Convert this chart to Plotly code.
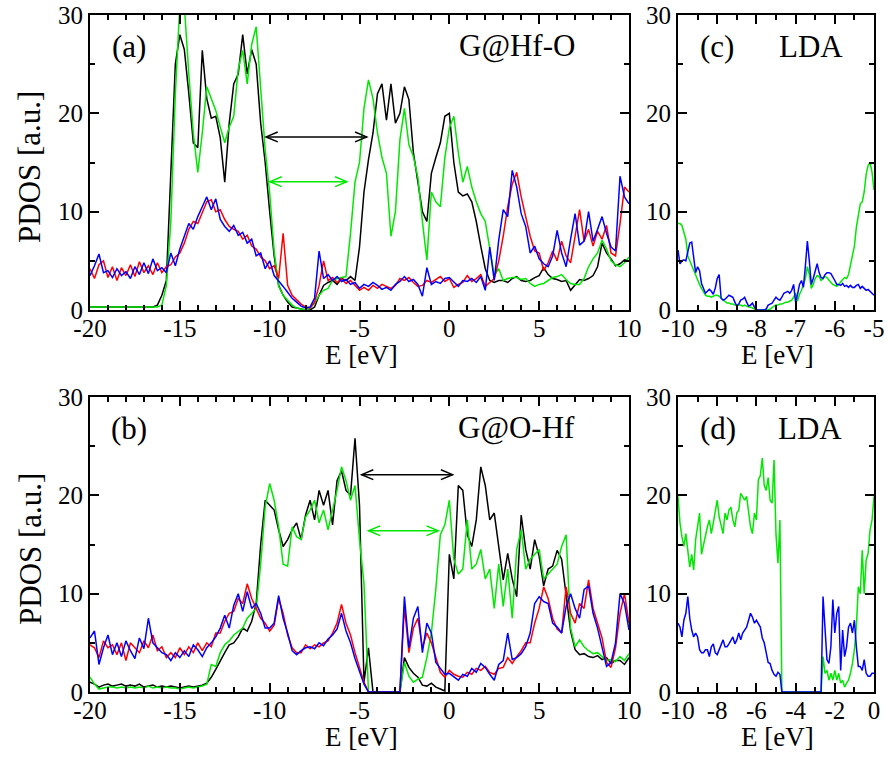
import numpy as np
import plotly.graph_objects as go

# ---------------- data ----------------
# panels (a) and (b): energy grid -20 .. 10 eV, step 0.25 (rows of 2 eV)
E_ab = np.round(np.linspace(-20, 10, 121), 2)

a_black = [
    0.3, 0.3, 0.3, 0.3, 0.3, 0.3, 0.3, 0.3,
    0.3, 0.3, 0.3, 0.3, 0.3, 0.3, 0.3, 0.5,
    1.5, 3.0, 14, 25, 28, 26.5, 22, 17,
    16.5, 26.4, 21.5, 19.5, 19.7, 17.5, 13, 19,
    23, 24, 28, 24, 26.5, 25, 19, 15,
    10, 5.5, 2.5, 1.5, 0.8, 0.3, 0.2, 0.1,
    0, 0, 0.3, 1.5, 2.5, 2.8, 3, 2.6,
    3.2, 3.0, 3.4, 3.0, 6.4, 12, 15.3, 18,
    22, 23, 19.3, 23, 19, 20, 22.7, 21.4,
    16, 13, 10, 9, 13.9, 15.5, 17, 19.7,
    20, 15, 12, 11.6, 11.8, 11, 9, 6.5,
    4.2, 3, 2.8, 3, 3, 2.8, 3.2, 3.4,
    3, 2.9, 3, 3.3, 3.5, 4.3, 3.6, 3.2,
    3.1, 2.9, 3, 2, 2.6, 3.1, 3, 3.2,
    3.5, 4.4, 6.8, 5.8, 5.2, 4.5, 4.7, 5.1,
    5,
]
a_green = [
    0.3, 0.3, 0.3, 0.3, 0.3, 0.3, 0.3, 0.3,
    0.3, 0.3, 0.3, 0.3, 0.3, 0.3, 0.3, 0.3,
    0.5, 2.5, 9, 22, 31, 31, 24, 18,
    14, 18, 22.7, 21.5, 20.3, 18.6, 17, 18.6,
    19.7, 24.5, 26.4, 23, 27, 28.8, 22, 16.3,
    11.9, 6, 2.4, 1.5, 1, 0.5, 0.2, 0.1,
    0, 0.2, 0.7, 1.5, 2, 2.2, 3, 3.2,
    3.3, 3.4, 7.8, 13, 15, 20.5, 23.4, 21.5,
    18, 15.5, 13.9, 7.5, 10, 17.3, 20.5, 16.8,
    15.6, 13.5, 9, 5.1, 12, 11, 10.5, 15.5,
    18.5, 19.7, 16, 13, 14.6, 12.5, 11, 9.8,
    9, 6, 3.5, 4.2, 3, 3.2, 3.3, 3.3,
    3.1, 3.2, 2.7, 2.4, 2.6, 2.7, 3, 3.3,
    3.4, 3.6, 3.1, 2.7, 2.6, 2.6, 3.2, 4.4,
    5.2, 5.8, 7.1, 6.2, 5, 4.6, 4.4, 4.8,
    5.4,
]
a_red = [
    4.2, 3.2, 4.6, 5.0, 3.3, 4.4, 3.0, 4.3,
    3.5, 4.6, 3.4, 4.9, 3.8, 4.5, 3.6, 4.8,
    3.8, 4.4, 4.6, 5.4, 5.8, 6.8, 8.2, 9.0,
    8.8, 10.0, 11.0, 11.2, 10.0, 10.2, 9.2, 8.5,
    8.2, 8.0, 7.2, 7.6, 6.5, 6.2, 5.4, 5.0,
    4.2, 4.5, 3.2, 7.8, 2.5, 1.5, 1.0, 0.6,
    0.3, 0.2, 0.8, 2.5, 5.0, 3.0, 3.3, 2.8,
    3.2, 2.7, 3.0, 2.5, 2.0, 2.3, 2.0, 2.5,
    2.2, 2.6, 2.4, 2.2, 2.5, 3.2, 3.0, 3.3,
    2.8, 2.4, 2.5, 3.0, 2.8, 3.1, 3.4, 2.9,
    3.2, 2.3, 2.6, 2.8, 3.5, 2.9, 3.2, 3.6,
    2.4, 2.8, 3.2, 5.0, 7.5, 10.5, 12.8, 14.0,
    11.5, 9.5, 7.5, 6.0, 5.8, 4.0, 4.8, 6.0,
    5.0, 7.0, 5.5, 4.8, 7.5, 10.2, 7.0, 8.2,
    6.5, 8.0, 7.2, 8.6, 5.8, 5.5, 8.8, 12.5,
    12.0,
]
a_blue = [
    3.5, 4.5, 5.7, 3.8, 4.0, 3.3, 4.2, 3.5,
    3.9, 3.2, 4.4, 3.6, 4.8, 3.7, 5.2, 4.0,
    4.3, 3.8, 5.8, 4.5, 6.2, 7.5, 8.8, 8.2,
    9.5, 10.5, 11.5, 10.2, 11.3, 9.2, 8.5, 8.0,
    8.6, 7.6, 7.9, 6.8, 7.2, 5.5, 5.8, 4.2,
    5.0, 3.5, 3.0, 2.4, 1.8, 1.2, 0.8, 0.4,
    0.2, 0.3, 1.2, 6.0, 3.2, 3.6, 3.0, 3.4,
    2.9, 3.1, 2.6, 2.8, 2.2, 2.6, 2.4, 2.8,
    2.5, 2.1, 2.3, 2.0, 2.6, 2.9, 3.4, 2.9,
    3.1, 2.6, 1.4, 4.3, 2.6, 2.9, 2.7, 3.2,
    3.3, 2.8, 2.4, 3.0, 2.9, 3.2, 2.8, 3.4,
    2.0, 6.4, 3.0, 7.1, 10.2, 9.5, 14.2, 12.5,
    9.8, 8.5, 5.8, 6.5, 5.2, 4.7, 4.4, 5.5,
    8.1, 5.8, 4.4, 7.2, 9.8, 6.6, 7.0, 10.0,
    7.0, 8.2, 9.5, 7.8, 6.4, 6.0, 13.6, 11.5,
    10.8,
]

b_black = [
    1.0, 0.8, 0.5, 0.7, 0.8, 0.6, 0.7, 0.8,
    0.6, 0.7, 0.6, 0.8, 0.5, 0.6, 0.7, 0.5,
    0.6, 0.5, 0.6, 0.5, 0.4, 0.5, 0.6, 0.5,
    0.6, 0.7, 0.9, 1.5, 2.3, 3.2, 4.0, 4.8,
    5.0, 5.6, 6.5, 6.2, 7.2, 9.0, 15, 19.5,
    19, 18.5, 16.5, 14.8, 15.5, 16.5, 17.2, 15.5,
    18, 19.5, 17.5, 20.5, 19, 20.5, 17, 21.5,
    22.5, 20.5, 20, 25.8, 19, 1.0, 4.5, 0,
    0, 0, 0, 0, 0, 0, 3.5, 2.5,
    1.9, 1.5, 0.7, 0.6, 0.9, 0.5, 0.3, 0.1,
    14, 11.5, 21, 20.5, 16, 14.8, 17.5, 22.9,
    21, 17.5, 18.2, 15, 11.4, 14.1, 11.5, 9.7,
    18, 14.5, 12.5, 15.5, 13.8, 10.8, 12.5, 12.8,
    14.4, 13.5, 10, 6.2, 4.3, 3.8, 3.9, 3.6,
    3.5, 3.7, 3.3, 3.5, 2.9, 3.2, 3.2, 2.8,
    3.5,
]
b_green = [
    1.5, 0.8, 0.3, 0.4, 0.5, 0.5, 0.4, 0.5,
    0.4, 0.5, 0.4, 0.5, 0.4, 0.6, 0.4, 0.5,
    0.4, 0.5, 0.4, 0.4, 0.3, 0.4, 0.5, 0.4,
    0.5, 0.6, 0.8, 2.8, 2.6, 4.0, 4.8, 5.2,
    5.8, 6.2, 6.5, 7.5, 8.0, 8.5, 13, 18.8,
    21.2, 19.5, 16.8, 13, 12.8, 16.8, 15.8, 15.5,
    17.8, 18.5, 19.5, 17.2, 18.5, 16.5, 18.5, 20.5,
    22.9, 21.5, 19.5, 21, 15.5, 11.0, 0, 0,
    0, 0, 0, 0, 0, 0, 3.0, 1.6,
    1.0, 1.3, 1.5, 3.5, 6, 10.5, 16, 17,
    19.5, 13.5, 12, 12.5, 17.5, 12.5, 13, 14.5,
    11.5, 12.5, 8.5, 13, 8.7, 12.5, 7.5, 14.5,
    16.5, 12.5, 13.5, 14.0, 14.5, 11.5, 12, 12.5,
    13, 14.8, 16, 6.5, 4.6, 5.3, 4.6, 4.2,
    3.9, 4.0, 3.6, 3.2, 3.3, 3.1, 3.6, 3.2,
    3.9,
]
b_red = [
    4.8, 4.5, 3.5, 5.2, 4.5, 4.8, 3.8, 5.0,
    3.2, 5.0, 4.5, 4.0, 5.2, 4.5, 5.8, 4.2,
    4.6, 3.5, 4.0, 3.5, 4.5, 3.8, 4.6, 4.0,
    5.0, 4.2, 5.0, 4.6, 6.0, 6.0, 7.2, 8.0,
    8.2, 9.5, 9.0, 11.0, 9.5, 8.5, 7.5, 7.0,
    6.2, 6.8, 9.5, 8.0, 5.8, 4.5, 4.0, 4.0,
    4.8, 4.4, 4.8, 4.6, 5.0, 5.2, 6.0, 7.0,
    8.9, 7.0, 5.8, 4.0, 2.6, 1.0, 0, 0,
    0, 0, 0, 0, 0, 0, 8.7, 4.0,
    6.5, 7.5, 4.5, 6.0, 5.0, 3.5, 2.0, 1.5,
    2.2, 1.8, 1.6, 1.5, 2.0, 1.8, 2.4, 2.2,
    2.6, 2.0, 1.8, 2.4, 2.5, 3.5, 2.9, 3.6,
    4.2, 5.0, 5.0, 7.0, 8.5, 10.7, 9.5, 7.5,
    6.4, 6.0, 10.7, 8.0, 7.0, 9.0, 8.5, 11.4,
    8.5, 7.0, 5.5, 3.0, 2.5, 4.5, 8.0, 10.0,
    7.0,
]
b_blue = [
    5.5, 6.2, 2.8, 4.5, 5.8, 3.8, 5.0, 3.6,
    5.2, 4.2, 3.4, 5.5, 4.4, 7.5, 5.0, 4.5,
    4.0, 3.8, 3.2, 4.0, 3.5, 4.2, 3.6, 4.8,
    4.3, 3.6, 4.5, 5.0, 5.6, 6.5, 7.8, 6.5,
    8.8, 10.0, 8.2, 10.2, 8.5, 9.0, 8.0, 6.5,
    6.5, 7.0, 9.8, 7.5, 6.0, 4.2, 3.8, 4.2,
    4.5, 4.6, 4.4, 5.0, 4.7, 5.4, 5.8, 6.4,
    8.0, 6.2, 5.0, 3.4, 2.2, 0.8, 0, 0,
    0, 0, 0, 0, 0, 0, 9.7, 4.5,
    7.5, 8.7, 4.0, 7.0, 6.0, 3.0, 2.4, 1.8,
    1.9, 1.5, 1.2, 1.8, 1.6, 2.4, 2.0, 2.9,
    2.5, 1.8, 1.2, 2.8, 3.2, 6.0, 3.3, 3.5,
    3.9, 4.6, 6.0, 9.0, 9.7, 9.2, 9.0, 7.0,
    6.6, 6.0, 8.7, 10.0, 8.5, 7.5, 10.4, 10.8,
    8.0, 6.5, 4.5, 2.6, 3.0, 5.0, 10.0, 9.0,
    6.3,
]

# panel (c): -10 .. -5 eV, step 0.05 (rows of 0.5 eV)
E_c = np.round(np.linspace(-10, -5, 101), 3)
c_green = [
    8.8, 8.8, 8.6, 8.0, 7.2, 5.5, 5.0, 4.6, 4.0, 3.4,
    3.0, 2.6, 2.2, 1.8, 1.5, 1.4, 1.4, 1.3, 1.4, 1.5,
    1.5, 1.4, 1.2, 1.0, 0.8, 0.7, 0.7, 0.6, 0.6, 0.5,
    0.5, 0.5, 0.5, 0.4, 0.5, 0.4, 0.3, 0.3, 0.2, 0.1,
    0, 0, 0, 0, 0, 0, 0, 0.1, 0.3, 0.4,
    0.5, 0.5, 0.6, 0.6, 0.7, 0.8, 0.8, 0.9, 1.0, 1.3,
    1.7, 0.9, 1.6, 2.0, 2.6, 3.2, 4.4, 3.6, 2.2, 2.6,
    3.2, 3.5, 3.4, 3.0, 3.2, 3.4, 3.3, 3.0, 2.8, 2.6,
    2.5, 2.4, 2.6, 2.9, 3.1, 3.3, 3.2, 3.6, 4.5, 5.3,
    6.5, 8.4, 9.6, 10.8, 11.0, 12.0, 13.8, 14.7, 15.0, 14.0,
    12.2,
]
c_blue = [
    6.1, 4.7, 5.0, 5.1, 5.0, 6.0, 6.8, 6.9, 5.0, 3.8,
    4.4, 4.0, 2.7, 2.2, 1.7, 1.9, 2.1, 1.9, 1.6, 2.2,
    3.2, 3.6, 1.2, 1.0, 1.1, 1.3, 1.5, 1.4, 1.3, 0.8,
    0.4, 0.6, 1.0, 1.1, 1.3, 0.8, 0.4, 0.5, 0.7, 0.3,
    0, 0, 0, 0, 0, 0.1, 0.5, 0.6, 0.7, 1.0,
    1.3, 1.1, 1.0, 1.3, 1.7, 1.8, 1.9, 1.7, 2.0, 2.6,
    0.8, 1.6, 2.6, 3.0, 2.3, 4.5, 7.0, 5.0, 2.6, 3.2,
    4.0, 4.7, 3.8, 3.3, 3.2, 3.6, 3.8, 3.8, 3.7, 3.4,
    3.0, 2.6, 2.6, 2.5, 2.7, 2.4, 2.5, 2.3, 2.5, 2.3,
    2.3, 2.5, 2.6, 2.2, 2.4, 2.2, 2.0, 2.1, 1.9, 1.6,
    1.5,
]

# panel (d): -10 .. 0 eV, step 0.1 (rows of 1 eV)
E_d = np.round(np.linspace(-10, 0, 101), 2)
d_green = [
    19.9, 17.2, 15.8, 14.8, 16.1, 14.1, 12.7, 14.0, 12.4, 15.5,
    16.8, 18.2, 14.0, 15.0, 15.8, 16.8, 17.5, 16.1, 17.2, 18.2,
    19.5, 17.8, 16.8, 16.1, 18.2, 17.5, 18.5, 18.8, 17.5, 16.8,
    18.2, 18.5, 20.2, 19.9, 19.5, 19.9, 18.2, 16.8, 16.1, 18.2,
    17.5, 21.6, 22.0, 23.8, 21.0, 20.5, 21.8, 19.5, 19.2, 23.6,
    16.0, 13.1, 17.5, 0, 0, 0, 0, 0, 0, 0,
    0, 0, 0, 0, 0, 0, 0, 0, 0, 0,
    0, 0, 0, 0, 3.6, 1.9, 2.2, 1.2, 1.9, 1.2,
    2.2, 1.2, 1.9, 0.9, 1.2, 0.5, 0.9, 1.2, 1.9, 2.9,
    4.3, 6.6, 10.7, 10.0, 14.4, 10.0, 13.4, 14.1, 16.5, 17.5,
    19.9,
]
d_blue = [
    7.0, 6.6, 5.6, 7.3, 8.0, 9.7, 7.5, 6.3, 5.6, 6.0,
    5.6, 4.3, 4.0, 4.0, 4.3, 4.3, 3.6, 4.6, 4.9, 4.0,
    3.8, 4.3, 4.6, 5.3, 4.6, 4.6, 4.9, 5.3, 5.6, 4.9,
    5.3, 6.0, 5.3, 6.0, 6.3, 6.6, 7.3, 8.0, 7.6, 7.0,
    7.3, 7.0, 6.6, 5.5, 5.0, 4.0, 3.0, 2.9, 2.2, 1.8,
    1.6, 2.0, 1.8, 0, 0, 0, 0, 0, 0, 0,
    0, 0, 0, 0, 0, 0, 0, 0, 0, 0,
    0, 0, 0, 0, 9.7, 6.0, 3.3, 2.9, 4.6, 9.4,
    6.0, 8.0, 8.7, 2.2, 6.3, 3.6, 4.6, 6.6, 7.0, 6.0,
    7.3, 4.6, 2.6, 2.6, 2.2, 3.3, 1.9, 1.6, 1.6, 1.9,
    1.9,
]

# tick labels
ab_ticks = [-20, -15, -10, -5, 0, 5, 10]
ab_ticklabels = ["-20", "-15", "-10", "-5", "0", "5", "10"]
c_ticks = [-10, -9, -8, -7, -6, -5]
c_ticklabels = ["-10", "-9", "-8", "-7", "-6", "-5"]
d_ticks = [-10, -8, -6, -4, -2, 0]
d_ticklabels = ["-10", "-8", "-6", "-4", "-2", "0"]
y_ticks = [0, 10, 20, 30]
y_ticklabels = ["0", "10", "20", "30"]

# double arrows: (x_start, x_end, y, colour key)
arrows_a = [(-10.2, -4.6, 17.6, "black"), (-9.98, -5.71, 13.05, "green")]
arrows_b = [(-4.88, 0.18, 22.1, "black"), (-4.5, -0.62, 16.4, "green")]

# ---------------- style ----------------
COL = {"black": "#000000", "green": "#00e800", "red": "#ff0000", "blue": "#0000ff"}
FONT = "Liberation Serif"
W, H = 889, 768

def px_x(p):
    return p / W

def px_y(p):
    return 1 - p / H

dom_x_ab = [px_x(90), px_x(629)]
dom_x_cd = [px_x(678), px_x(874)]
dom_y_top = [px_y(310), px_y(15)]
dom_y_bot = [px_y(692), px_y(397)]

fig = go.Figure()

def add(x, y, colour, xa, ya):
    fig.add_trace(go.Scatter(x=x, y=y, mode="lines",
                             line=dict(color=COL[colour], width=1.5),
                             xaxis=xa, yaxis=ya, showlegend=False,
                             hoverinfo="skip"))

for series, col in [(a_black, "black"), (a_green, "green"), (a_red, "red"), (a_blue, "blue")]:
    add(E_ab, series, col, "x", "y")
for series, col in [(b_black, "black"), (b_green, "green"), (b_red, "red"), (b_blue, "blue")]:
    add(E_ab, series, col, "x2", "y2")
for series, col in [(c_green, "green"), (c_blue, "blue")]:
    add(E_c, series, col, "x3", "y3")
for series, col in [(d_green, "green"), (d_blue, "blue")]:
    add(E_d, series, col, "x4", "y4")

tickfont = dict(family=FONT, size=25, color="black")

common = dict(ticks="inside", ticklen=9, tickwidth=1.5, tickcolor="black",
              showline=True, linecolor="black", linewidth=2, mirror="ticks",
              showgrid=False, zeroline=False, automargin=False,
              ticklabeloverflow="allow",
              layer="above traces", tickfont=tickfont)

def xaxis(domain, rng, vals, texts, minor, anchor):
    return dict(domain=domain, range=rng, tickvals=vals, ticktext=texts,
                anchor=anchor, ticklabelstandoff=-5,
                minor=dict(ticks="inside", ticklen=5, dtick=minor,
                           tickwidth=1.5, tickcolor="black", showgrid=False),
                **common)

def yaxis(domain, anchor):
    return dict(domain=domain, range=[0, 30], tickvals=y_ticks, ticktext=y_ticklabels,
                anchor=anchor,
                minor=dict(ticks="inside", ticklen=5, dtick=5, tick0=0,
                           tickwidth=1.5, tickcolor="black", showgrid=False),
                **common)

fig.update_layout(
    width=W, height=H,
    margin=dict(l=0, r=0, t=0, b=0, pad=0, autoexpand=False),
    font=dict(family=FONT, color="black"),
    paper_bgcolor="white", plot_bgcolor="white",
    xaxis=xaxis(dom_x_ab, [-20, 10], ab_ticks, ab_ticklabels, 1, "y"),
    yaxis=yaxis(dom_y_top, "x"),
    xaxis2=xaxis(dom_x_ab, [-20, 10], ab_ticks, ab_ticklabels, 1, "y2"),
    yaxis2=yaxis(dom_y_bot, "x2"),
    xaxis3=xaxis(dom_x_cd, [-10, -5], c_ticks, c_ticklabels, 0.5, "y3"),
    yaxis3=yaxis(dom_y_top, "x3"),
    xaxis4=xaxis(dom_x_cd, [-10, 0], d_ticks, d_ticklabels, 1, "y4"),
    yaxis4=yaxis(dom_y_bot, "x4"),
)

# arrows as line shapes with open chevron heads
def add_arrow(x1, x2, y, colour, xref, yref, dx, dy=0.5):
    c = COL[colour]
    fig.add_shape(type="line", x0=x1, x1=x2, y0=y, y1=y, xref=xref, yref=yref,
                  line=dict(color=c, width=1.5))
    fig.add_shape(type="path", xref=xref, yref=yref,
                  path=f"M {x1 + dx},{y + dy} L {x1},{y} L {x1 + dx},{y - dy}",
                  line=dict(color=c, width=1.5))
    fig.add_shape(type="path", xref=xref, yref=yref,
                  path=f"M {x2 - dx},{y + dy} L {x2},{y} L {x2 - dx},{y - dy}",
                  line=dict(color=c, width=1.5))

for x1, x2, y, c in arrows_a:
    add_arrow(x1, x2, y, c, "x", "y", 0.65)
for x1, x2, y, c in arrows_b:
    add_arrow(x1, x2, y, c, "x2", "y2", 0.65)

labfont = dict(family=FONT, size=31, color="black")
def label(text, x, y, xref, yref):
    fig.add_annotation(text=text, x=x, y=y, xref=xref, yref=yref, showarrow=False,
                       font=labfont, xanchor="center", yanchor="middle")

label("(a)", -17.85, 26.8, "x", "y")
label("G@Hf-O", 3.75, 26.9, "x", "y")
label("(b)", -17.85, 26.8, "x2", "y2")
label("G@O-Hf", 3.75, 26.9, "x2", "y2")
label("(c)", -9.0, 26.8, "x3", "y3")
label("LDA", -6.6, 26.8, "x3", "y3")
label("(d)", -7.98, 26.8, "x4", "y4")
label("LDA", -3.28, 26.8, "x4", "y4")

def title(text, xp, yp, size, angle=0):
    fig.add_annotation(text=text, x=px_x(xp), y=px_y(yp), xref="paper", yref="paper",
                       showarrow=False, font=dict(family=FONT, size=size, color="black"),
                       textangle=angle, xanchor="center", yanchor="middle")

title("E [eV]", 361, 355, 27)
title("E [eV]", 777, 355, 27)
title("E [eV]", 361, 737, 27)
title("E [eV]", 777, 737, 27)
title("PDOS [a.u.]", 30, 167, 31, -90)
title("PDOS [a.u.]", 30, 549, 31, -90)

# remove the default 8 px page margin so the figure fills the window exactly
fig.write_html("out.html", config={"displayModeBar": False},
               post_script="document.body.style.margin='0';")
